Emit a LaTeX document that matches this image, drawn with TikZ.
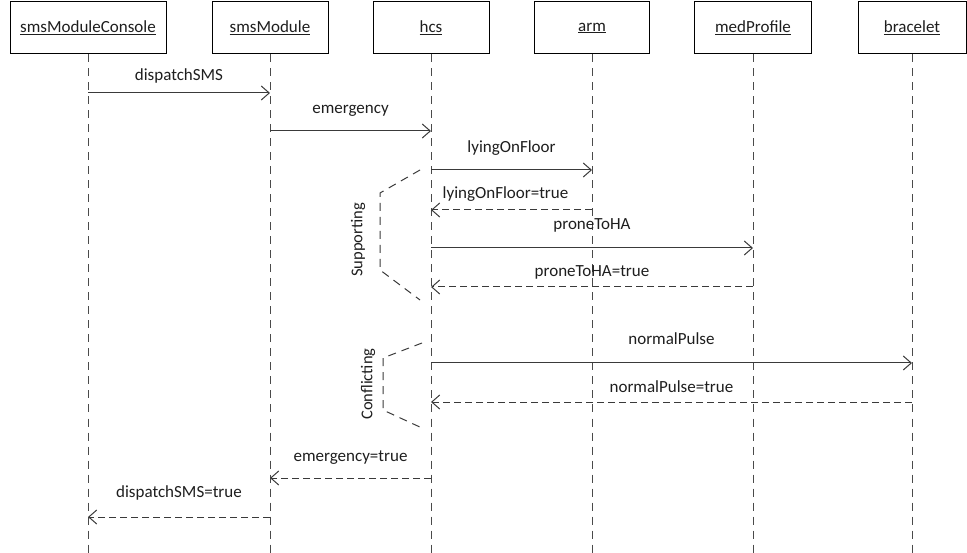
\documentclass[tikz,border=0pt]{standalone}
\usepackage{fontspec}
\setmainfont{Carlito}
\usetikzlibrary{arrows.meta}
\definecolor{ink}{HTML}{1E1E1E}
\definecolor{lifec}{HTML}{4A4A4A}
\definecolor{msgc}{HTML}{3A3A3A}
\tikzset{
  box/.style={draw=black, line width=1pt, fill=white, minimum height=52pt, inner sep=0pt, text=ink, font=\fontsize{17}{20}\selectfont},
  life/.style={draw=lifec, line width=1pt, dash pattern=on 8pt off 6pt},
  msg/.style={draw=msgc, line width=1pt, -{Straight Barb[length=8pt,width=14pt]}},
  ret/.style={msg, dash pattern=on 7pt off 4pt},
  lbl/.style={text=ink, font=\fontsize{17}{20}\selectfont, anchor=base, inner sep=0pt},
  brk/.style={draw=msgc, line width=1pt, dash pattern=on 8pt off 6pt},
  brklbl/.style={text=ink, font=\fontsize{16.5}{19}\selectfont, rotate=90, inner sep=0pt}
}
\begin{document}
\begin{tikzpicture}[x=1pt,y=-1pt]
\useasboundingbox (0,0) rectangle (967,553);
% participants
\node[box, minimum width=156pt] (smc) at (88,28) {\underline{smsModuleConsole}};
\node[box, minimum width=116pt] (smm) at (270,28) {\underline{smsModule}};
\node[box, minimum width=116pt] (hcs) at (431,28) {\underline{hcs}};
\node[box, minimum width=115pt] (arm) at (592,28) {\underline{arm}};
\node[box, minimum width=117pt] (med) at (753,28) {\underline{medProfile}};
\node[box, minimum width=108pt] (brc) at (912,28) {\underline{bracelet}};
% lifeline ends
\coordinate (smcE) at (88,553);
\coordinate (smmE) at (270,553);
\coordinate (hcsE) at (431,553);
\coordinate (armE) at (592,553);
\coordinate (medE) at (753,553);
\coordinate (brcE) at (912,553);
\foreach \n in {smc,smm,hcs,arm,med,brc}{\draw[life] (\n) -- (\n E);}
% messages
\draw[msg] (smc |- 0,93) -- node[lbl, yshift=12pt] {dispatchSMS} (smm |- 0,93);
\draw[msg] (smm |- 0,131) -- node[lbl, yshift=17pt] {emergency} (hcs |- 0,131);
\draw[msg] (hcs |- 0,170) -- node[lbl, yshift=17pt] {lyingOnFloor} (arm |- 0,170);
\draw[ret] (arm |- 0,210) -- node[lbl, yshift=11pt, xshift=-6pt] {lyingOnFloor=true} (hcs |- 0,210);
\draw[msg] (hcs |- 0,248) -- node[lbl, yshift=18pt] {proneToHA} (med |- 0,248);
\draw[ret] (med |- 0,287) -- node[lbl, yshift=10pt] {proneToHA=true} (hcs |- 0,287);
\draw[msg] (hcs |- 0,363) -- node[lbl, yshift=18pt] {normalPulse} (brc |- 0,363);
\draw[ret] (brc |- 0,402) -- node[lbl, yshift=10pt] {normalPulse=true} (hcs |- 0,402);
\draw[ret] (hcs |- 0,478) -- node[lbl, yshift=17pt] {emergency=true} (smm |- 0,478);
\draw[ret] (smm |- 0,517) -- node[lbl, yshift=20pt] {dispatchSMS=true} (smc |- 0,517);
% fragments
\draw[brk] (420,170) -- (380,193) -- (380,270) -- (420,300);
\node[brklbl] (sup) at (358,240) {Supporting};
\draw[brk] (422,343) -- (383,358) -- (383,410) -- (422,428);
\node[brklbl] (con) at (368,384) {Conflicting};
\end{tikzpicture}
\end{document}
